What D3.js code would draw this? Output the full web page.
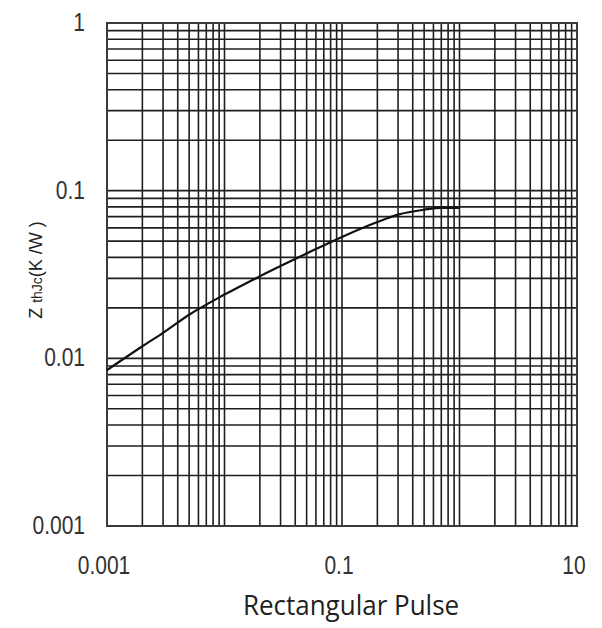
<!DOCTYPE html>
<html lang="en">
<head>
<meta charset="UTF-8">
<title>Transient Thermal Impedance</title>
<script src="https://cdnjs.cloudflare.com/ajax/libs/d3/7.9.0/d3.min.js"></script>
<style>
  body { margin: 0; background: #fff; }
</style>
</head>
<body>
<svg width="602" height="628"></svg>
<script>
// pulse width (s) and thermal impedance (K/W)
const pulseWidth = [0.001, 0.002, 0.003, 0.005, 0.01, 0.02, 0.05, 0.1, 0.2, 0.3, 0.5, 0.7, 1];
const zthValues  = [0.0085, 0.0118, 0.0142, 0.0182, 0.024, 0.0309, 0.0422, 0.053, 0.065, 0.072, 0.077, 0.079, 0.079];

// tick labels
const xTickValues = [0.001, 0.1, 10];
const xTickLabels = ["0.001", "0.1", "10"];
const yTickValues = [1, 0.1, 0.01, 0.001];
const yTickLabels = ["1", "0.1", "0.01", "0.001"];

const svg = d3.select("svg");
const plotLeft = 107, plotRight = 577, plotTop = 23, plotBottom = 526;

const x = d3.scaleLog().domain([0.001, 10]).range([plotLeft, plotRight]);
const y = d3.scaleLog().domain([0.001, 1]).range([plotBottom, plotTop]);

const gridColor = "#1e1e1e";

// grid lines (1..9 in each decade)
svg.append("g").selectAll("line")
  .data(x.ticks())
  .join("line")
  .attr("x1", d => x(d)).attr("x2", d => x(d))
  .attr("y1", plotTop).attr("y2", plotBottom)
  .attr("stroke", gridColor).attr("stroke-width", 1.6);

svg.append("g").selectAll("line")
  .data(y.ticks())
  .join("line")
  .attr("y1", d => y(d)).attr("y2", d => y(d))
  .attr("x1", plotLeft).attr("x2", plotRight)
  .attr("stroke", gridColor).attr("stroke-width", 1.6);

// frame
svg.append("rect")
  .attr("x", plotLeft).attr("y", plotTop)
  .attr("width", plotRight - plotLeft).attr("height", plotBottom - plotTop)
  .attr("fill", "none").attr("stroke", "#3a3a3a").attr("stroke-width", 2);

// curve
const line = d3.line()
  .x((d, i) => x(pulseWidth[i]))
  .y(d => y(d))
  .curve(d3.curveMonotoneX);

svg.append("path")
  .datum(zthValues)
  .attr("d", line)
  .attr("fill", "none")
  .attr("stroke", "#111")
  .attr("stroke-width", 2.2);

// tick labels (stretched vertically like the scan)
const tickFont = "'Liberation Sans', Arial, sans-serif";

yTickValues.forEach((v, i) => {
  svg.append("text")
    .attr("transform", `translate(85,${y(v) + 8}) scale(1,1.25)`)
    .attr("text-anchor", "end")
    .attr("font-family", tickFont)
    .attr("font-size", 21)
    .attr("fill", "#333")
    .text(yTickLabels[i]);
});

xTickValues.forEach((v, i) => {
  svg.append("text")
    .attr("transform", `translate(${x(v) - 3},574) scale(1,1.25)`)
    .attr("text-anchor", "middle")
    .attr("font-family", tickFont)
    .attr("font-size", 21)
    .attr("fill", "#333")
    .text(xTickLabels[i]);
});

// x axis title
svg.append("text")
  .attr("transform", "translate(351,615) scale(1,1.08)")
  .attr("text-anchor", "middle")
  .attr("font-family", "'Open Sans', 'Noto Sans', sans-serif")
  .attr("font-size", 26)
  .attr("fill", "#1f1f1f")
  .text("Rectangular Pulse");

// y axis title, rotated
const yt = svg.append("text")
  .attr("transform", "translate(42,270) rotate(-90)")
  .attr("text-anchor", "middle")
  .attr("font-family", tickFont)
  .attr("font-size", 18)
  .attr("fill", "#222");
yt.append("tspan").text("Z ");
yt.append("tspan").attr("font-size", 14).text("thJc");
yt.append("tspan").text("(K /W )");
</script>
</body>
</html>
